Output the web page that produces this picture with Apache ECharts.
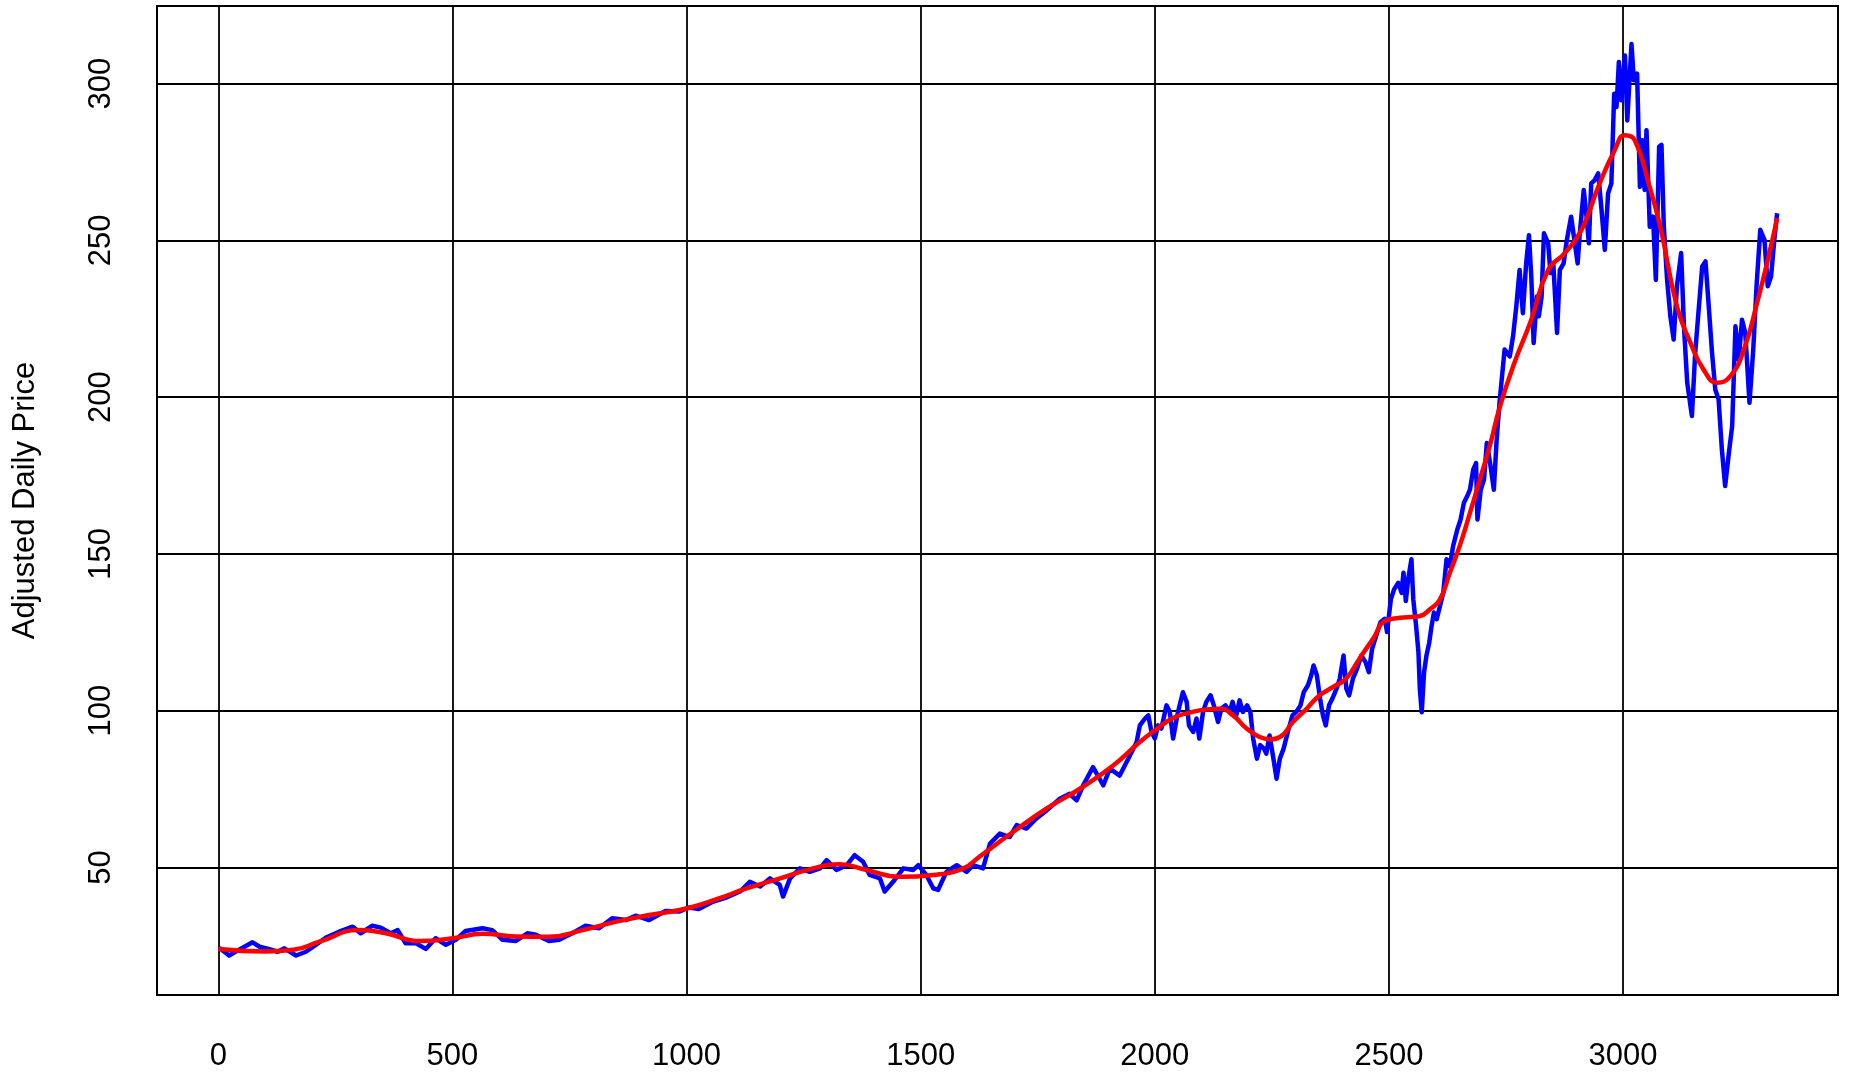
<!DOCTYPE html>
<html>
<head>
<meta charset="utf-8">
<script src="https://cdn.jsdelivr.net/npm/echarts@6/dist/echarts.min.js"></script>
<style>
  html, body { margin: 0; padding: 0; background: #fff; }
  #chart { width: 1851px; height: 1072px; }
</style>
</head>
<body>
<div id="chart"></div>
<script>
// Trading-day index of each recorded adjusted close
const priceDay = [
  2, 23, 52, 73, 88, 109, 127, 141, 166, 187, 208, 230, 258, 287, 304, 329, 347, 368, 383, 400,
  422, 443, 464, 486, 507, 528, 564, 585, 607, 635, 660, 678, 706, 728, 756, 784, 813, 841, 870, 891,
  920, 955, 984, 1005, 1026, 1057, 1085, 1114, 1135, 1157, 1178, 1199, 1206, 1221, 1242, 1263, 1285, 1299, 1320, 1342,
  1359, 1377, 1391, 1413, 1423, 1441, 1463, 1484, 1495, 1512, 1527, 1537, 1555, 1577, 1598, 1612, 1633, 1648, 1669, 1690,
  1705, 1726, 1747, 1769, 1797, 1818, 1833, 1847, 1868, 1890, 1904, 1925, 1943, 1961,
  1968, 1979, 1986, 1993, 2000, 2007, 2014, 2025, 2032, 2039, 2048, 2053, 2060, 2068, 2073, 2082, 2089, 2095, 2103, 2110,
  2119, 2126, 2135, 2142, 2151, 2160, 2166, 2174, 2181, 2188, 2197, 2204, 2210, 2218, 2225, 2233, 2238, 2245, 2251, 2260,
  2267, 2275, 2284, 2294, 2302, 2311, 2318, 2327, 2334, 2339, 2346, 2353, 2359, 2365, 2372, 2379, 2388, 2395, 2403, 2409,
  2415, 2423, 2432, 2441, 2450, 2457, 2464, 2473, 2482, 2491, 2496,
  2504, 2511, 2520, 2527, 2531, 2536, 2541, 2548, 2552, 2558, 2563, 2566, 2570, 2575, 2580, 2586, 2591, 2596, 2602, 2609,
  2616, 2623, 2630, 2637, 2646, 2653, 2660, 2667, 2673, 2680, 2686, 2689, 2696, 2703, 2709, 2716, 2724, 2730, 2736,
  2747, 2758, 2765, 2772, 2779, 2786, 2793, 2799, 2804, 2809, 2816, 2820, 2826, 2831, 2840, 2845, 2851, 2859, 2865, 2873,
  2880, 2889, 2896, 2903, 2907, 2916, 2922, 2927, 2932, 2939, 2947, 2954, 2961, 2968, 2975, 2981, 2986, 2991, 2996, 3004,
  3009, 3018, 3023, 3030, 3036, 3041, 3046, 3050, 3057, 3064, 3070, 3077,
  3082, 3087, 3094, 3101, 3108, 3115, 3124, 3130, 3137, 3147, 3154, 3162, 3169, 3176, 3183, 3190, 3197, 3204, 3211, 3218,
  3226, 3233, 3240, 3247, 3254, 3261, 3270, 3278, 3285, 3293, 3302, 3309, 3316, 3323, 3329
];

// Adjusted daily price on those days
const priceValue = [
  24.4, 21.9, 24.4, 26.1, 24.7, 23.9, 23.1, 24.2, 21.9, 23.1, 25.3, 27.6, 29.5, 31.1, 29.0, 31.4, 30.8, 29.0, 30.0, 25.8,
  25.8, 24.0, 27.4, 25.3, 26.9, 29.7, 30.6, 30.0, 26.9, 26.5, 29.0, 28.5, 26.5, 26.9, 29.0, 31.4, 30.6, 33.8, 33.2, 34.6,
  33.2, 36.1, 35.9, 37.2, 36.7, 39.1, 40.4, 42.3, 45.4, 43.9, 46.5, 44.4, 40.7, 46.5, 49.7, 48.6, 49.7, 52.3, 49.2, 50.7,
  53.9, 51.8, 47.6, 46.5, 42.3, 45.4, 49.7, 49.2, 50.7, 47.6, 43.3, 42.8, 48.6, 50.7, 48.6, 50.7, 49.7, 57.6, 60.8, 59.7,
  63.5, 62.4, 65.6, 68.2, 71.9, 73.5, 71.4, 76.2, 82.0, 76.2, 81.5, 79.3, 84.6, 89.9,
  95.3, 97.5, 98.5, 93.2, 91.1, 95.3, 94.3, 101.7, 99.6, 91.1, 98.5, 101.7, 105.9, 102.8, 95.3, 93.2, 97.5, 91.1, 99.6, 102.8,
  104.9, 101.7, 96.4, 100.6, 101.7, 99.6, 102.8, 98.5, 103.3, 99.6, 101.7, 99.6, 91.1, 84.7, 89.0, 87.9, 86.3, 92.1, 86.8, 78.3,
  84.7, 87.9, 93.2, 98.5, 99.6, 101.7, 105.9, 108.1, 111.3, 114.4, 111.3, 103.8, 98.5, 95.3, 101.7, 103.8, 107.0, 110.2, 117.6, 107.0,
  104.9, 110.2, 113.4, 117.6, 115.5, 112.3, 119.7, 124.0, 128.2, 129.3, 125.1,
  135.5, 138.7, 140.8, 137.6, 144.0, 135.0, 141.9, 148.3, 135.5, 127.0, 118.6, 106.9, 99.5, 112.2, 117.5, 121.7, 127.0, 131.3, 129.2, 133.4,
  137.6, 148.3, 146.1, 152.5, 157.8, 161.0, 166.3, 168.4, 170.5, 176.9, 179.0, 161.0, 170.5, 173.7, 185.4, 179.0, 170.5, 186.4, 198.1,
  215.2, 213.0, 219.4, 229.0, 240.6, 226.8, 242.7, 251.7, 238.5, 217.3, 232.1, 225.8, 232.1, 252.3, 249.1, 239.6, 242.7, 220.5, 240.6, 242.7,
  250.2, 257.6, 250.2, 242.7, 251.2, 266.1, 257.6, 249.1, 268.2, 269.2, 271.4, 259.7, 247.0, 265.0, 268.2, 296.8, 292.6, 306.9, 294.7, 309.0,
  288.3, 312.7, 301.1, 303.2, 267.1, 282.0, 266.1, 285.2, 254.4, 257.6, 237.4, 279.9,
  280.5, 254.5, 237.5, 225.8, 218.4, 235.4, 246.0, 222.6, 204.6, 194.0, 214.1, 229.0, 241.7, 243.3, 229.0, 214.1, 202.4, 199.3, 183.3, 171.7,
  182.3, 190.8, 222.6, 212.0, 224.7, 220.5, 198.2, 215.2, 235.4, 253.4, 250.2, 235.4, 238.5, 250.2, 258.7
];

// Smoothed trend of the price
const trendDay = [
  0, 100, 160, 216, 300, 358, 430, 500, 565, 635, 706, 778, 850, 920, 1000, 1069, 1128, 1200, 1270, 1327,
  1384, 1456, 1527, 1591, 1626, 1697, 1769, 1840, 1911, 1968, 2000, 2039, 2075, 2110, 2139, 2167, 2196, 2224, 2245, 2267,
  2295, 2324, 2352, 2380, 2408, 2437, 2466, 2494, 2531, 2566, 2587, 2609, 2630, 2651, 2673, 2694, 2715, 2737, 2768, 2804,
  2840, 2875, 2911, 2947, 2982, 3004, 3025, 3055, 3080, 3115, 3144, 3172, 3201, 3229, 3258, 3286, 3314, 3329
];
const trendValue = [
  24.0, 23.2, 23.7, 26.3, 30.0, 29.0, 26.5, 27.4, 28.8, 28.0, 27.9, 30.0, 32.7, 34.8, 36.9, 40.1, 43.3, 46.5, 49.7, 51.0,
  49.2, 47.0, 47.6, 49.7, 53.5, 61.3, 68.8, 75.1, 82.5, 90.0, 93.7, 97.7, 99.4, 100.4, 100.6, 98.5, 94.3, 91.6, 90.9, 91.6,
  96.4, 100.6, 104.9, 107.5, 110.2, 116.6, 122.9, 128.8, 129.7, 130.2, 132.3, 135.5, 144.0, 152.5, 163.1, 173.7, 184.3, 197.0, 211.0, 224.7,
  240.6, 245.9, 253.3, 267.1, 278.8, 283.6, 282.0, 268.0, 254.0, 229.0, 217.3, 208.8, 204.6, 206.7, 215.2, 230.0, 247.0, 257.1
];

const yTitle = 'Adjusted Daily Price';

const pairs = (xs, ys) => xs.map((x, i) => [x, ys[i]]);
const font = 'Liberation Sans, Arial, Helvetica, sans-serif';

const chart = echarts.init(document.getElementById('chart'), null, { renderer: 'canvas' });
chart.setOption({
  animation: false,
  backgroundColor: '#ffffff',
  grid: {
    left: 157, right: 13, top: 6, bottom: 75,
    show: true, borderColor: '#000', borderWidth: 2, backgroundColor: 'transparent'
  },
  xAxis: {
    type: 'value',
    min: -131, max: 3459,
    splitNumber: 7,
    axisLine: { show: false },
    axisTick: { show: false },
    axisLabel: {
      showMinLabel: false, showMaxLabel: false,
      formatter: v => String(v),
      margin: 46, fontSize: 31, color: '#000', fontFamily: font
    },
    splitLine: { show: true, lineStyle: { color: '#000', width: 1.8 } }
  },
  yAxis: {
    type: 'value',
    min: 9.3, max: 324.8,
    splitNumber: 6,
    name: yTitle,
    nameLocation: 'middle',
    nameGap: 116,
    nameRotate: 90,
    nameTextStyle: { fontSize: 31, color: '#000', fontFamily: font },
    axisLine: { show: false },
    axisTick: { show: false },
    axisLabel: {
      showMinLabel: false, showMaxLabel: false,
      formatter: v => String(v),
      rotate: 90, margin: 40, fontSize: 31, color: '#000', fontFamily: font
    },
    splitLine: { show: true, lineStyle: { color: '#000', width: 1.8 } }
  },
  series: [
    {
      type: 'line',
      data: pairs(priceDay, priceValue),
      showSymbol: false,
      lineStyle: { color: '#0000ff', width: 4.5, join: 'round' },
      z: 3
    },
    {
      type: 'line',
      data: pairs(trendDay, trendValue),
      showSymbol: false,
      smooth: 0.5,
      lineStyle: { color: '#ff0000', width: 4.5 },
      z: 4
    }
  ]
});
</script>
</body>
</html>
